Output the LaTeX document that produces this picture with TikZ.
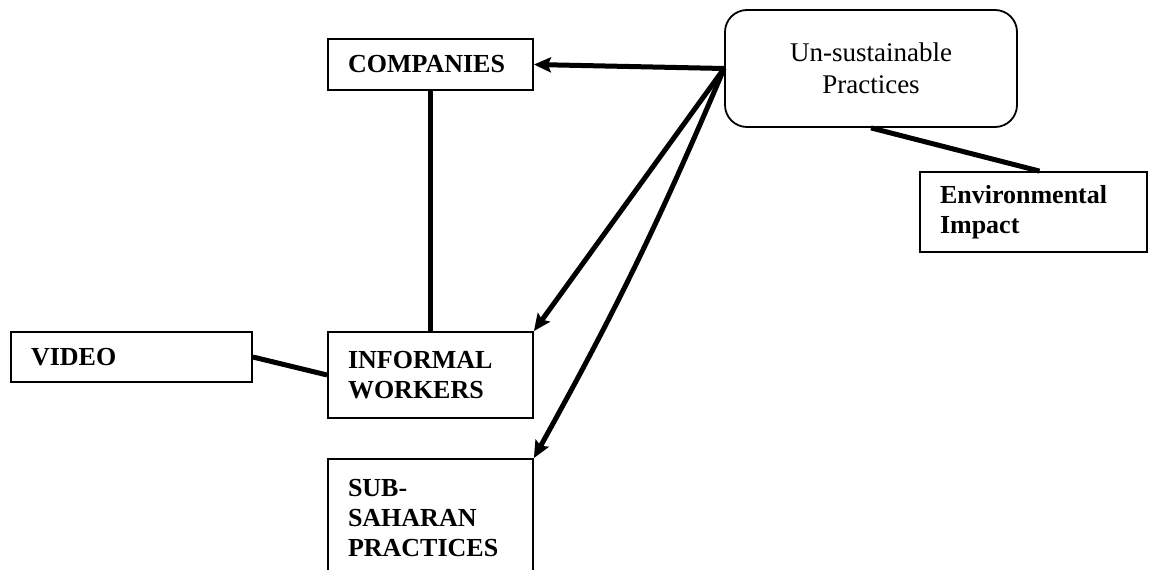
\documentclass[tikz,border=0pt]{standalone}
\usepackage{fontspec}
\setmainfont{Liberation Serif}
\usetikzlibrary{arrows.meta}
\tikzset{
  box/.style={draw=black, line width=1.8pt, rectangle, inner xsep=20pt, inner ysep=0pt,
    align=left, font=\fontsize{26}{30}\selectfont\bfseries},
  roundbox/.style={draw=black, line width=1.8pt, rectangle, rounded corners=22pt, inner sep=0pt,
    align=center, font=\fontsize{27}{32}\selectfont},
  link/.style={line width=5pt},
  arr/.style={line width=5pt, -{Stealth[length=17pt,width=15pt,inset=3pt]}}
}
\begin{document}
\begin{tikzpicture}[x=1pt,y=-1pt]
\useasboundingbox (0,0) rectangle (1149,570);
\clip (0,0) rectangle (1149,570);
\node[box, text width=165pt, minimum height=51pt] (comp) at (430.5,64.5) {COMPANIES};
\node[roundbox, text width=292pt, minimum height=117pt] (unsus) at (871,68.5) {Un-sustainable\\Practices};
\node[box, text width=187pt, minimum height=80pt] (env) at (1033.5,212) {Environmental\\Impact};
\node[box, text width=201pt, minimum height=50pt] (video) at (131.5,357) {VIDEO};
\node[box, text width=165pt, minimum height=86pt] (inf) at (430.5,375) {INFORMAL\\WORKERS};
\node[box, text width=165pt, minimum height=118pt] (sub) at (430.5,518) {SUB-\\SAHARAN\\PRACTICES};
\draw[arr] (unsus.west) -- (comp.east);
\draw[arr] (unsus.west) -- (inf.north east);
\draw[arr] (unsus.west) to[bend left=3] (sub.north east);
\draw[link] (comp.south) -- (inf.north);
\draw[link] (video.east) -- (inf.west);
\draw[link] (unsus.south) -- ([xshift=6pt]env.north);
\end{tikzpicture}
\end{document}
